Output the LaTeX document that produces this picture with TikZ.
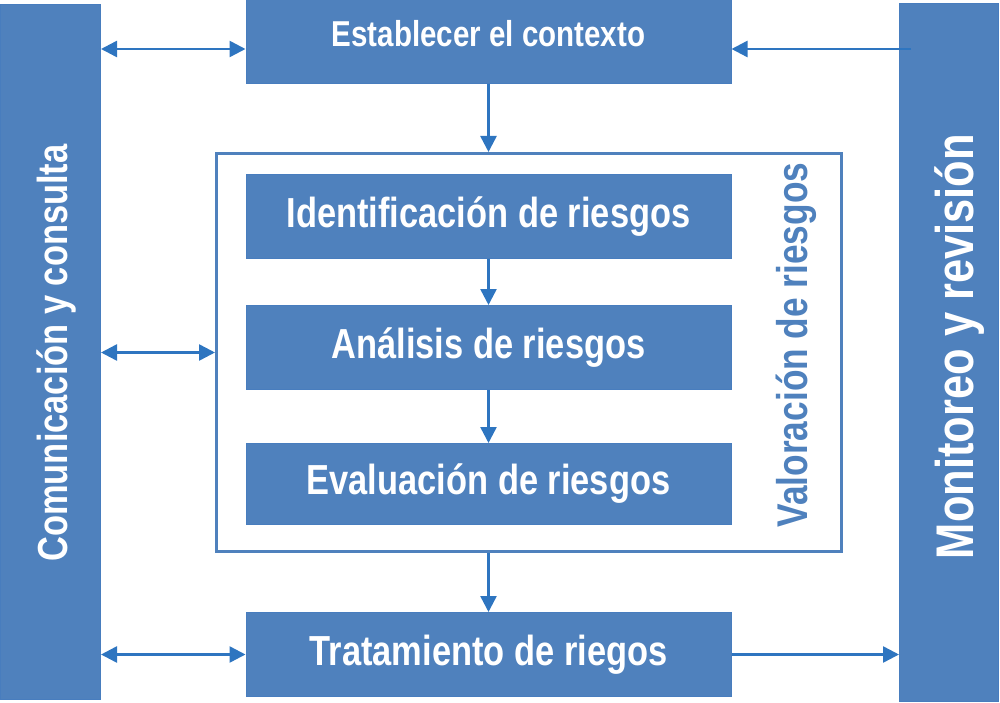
\documentclass[tikz,border=0pt]{standalone}
\usepackage{fontspec}
\setmainfont{Liberation Sans}[FakeStretch=0.82]
\usetikzlibrary{arrows.meta,calc}
\definecolor{caja}{RGB}{79,129,189}
\definecolor{borde}{RGB}{72,125,190}
\definecolor{flecha}{RGB}{46,117,192}

\begin{document}
\begin{tikzpicture}[x=1pt, y=-1pt, >={Triangle[length=16pt,width=16pt]},
		etapa/.style={draw=borde, line width=1pt, fill=caja, text=white, font=\fontsize{42}{46}\selectfont\bfseries, minimum width=485pt, minimum height=83pt, inner sep=0pt},
		barra/.style={draw=borde, line width=1pt, fill=caja, inner sep=0pt},
		rotulo/.style={rotate=90, anchor=base, inner sep=0pt},
		flujo/.style={->, flecha, line width=2.5pt},
		doble/.style={<->, flecha, line width=2.5pt}]
	\useasboundingbox (0,0) rectangle (1000,703);
	\node[barra, minimum width=100pt, minimum height=695pt] (com) at (50.5,352) {};
	\node[barra, minimum width=99pt, minimum height=698pt] (mon) at (949,352.5) {};
	\node[rotulo, text=white, font=\fontsize{42}{46}\selectfont\bfseries] (comtxt) at (67,353) {Comunicación y consulta};
	\node[rotulo, text=white, font=\fontsize{53}{58}\selectfont\bfseries] (montxt) at (973,346.5) {Monitoreo y revisión};
	\node[draw=caja, line width=3pt, minimum width=625pt, minimum height=398pt] (val) at (529,352.5) {};
	\node[rotulo, text=caja, font=\fontsize{43}{47}\selectfont\bfseries] (valtxt) at (807,345) {Valoración de riesgos};
	\node[etapa, font=\fontsize{36}{40}\selectfont\bfseries, minimum height=99pt] (ctx) at (488.5,34) {Establecer el contexto};
	\node[etapa] (ide) at (488.5,216.5) {Identificación de riesgos};
	\node[etapa, minimum height=84pt] (ana) at (488.5,347.5) {Análisis de riesgos};
	\node[etapa, minimum height=81pt] (eva) at (488.5,484) {Evaluación de riesgos};
	\node[etapa, minimum height=84pt] (tra) at (488.5,654.5) {Tratamiento de riegos};
	\coordinate (ctxizq) at ([yshift=-15pt]ctx.west);
	\coordinate (ctxder) at ([yshift=-15pt]ctx.east);
	\coordinate (monent) at ($(mon.west |- ctxder)+(12,0)$);
	\draw[doble] (com.east |- ctxizq) -- (ctxizq);
	\draw[flujo] (monent) -- (ctxder);
	\draw[flujo] (ctx.south) -- (ctx.south |- val.north);
	\draw[doble] (com.east |- val.west) -- (val.west);
	\draw[flujo] (ide) -- (ana);
	\draw[flujo] (ana) -- (eva);
	\draw[flujo] (ctx.south |- val.south) -- (tra);
	\draw[doble] (com.east |- tra.west) -- (tra.west);
	\draw[flujo] (tra.east) -- (tra.east -| mon.west);
\end{tikzpicture}
\end{document}
